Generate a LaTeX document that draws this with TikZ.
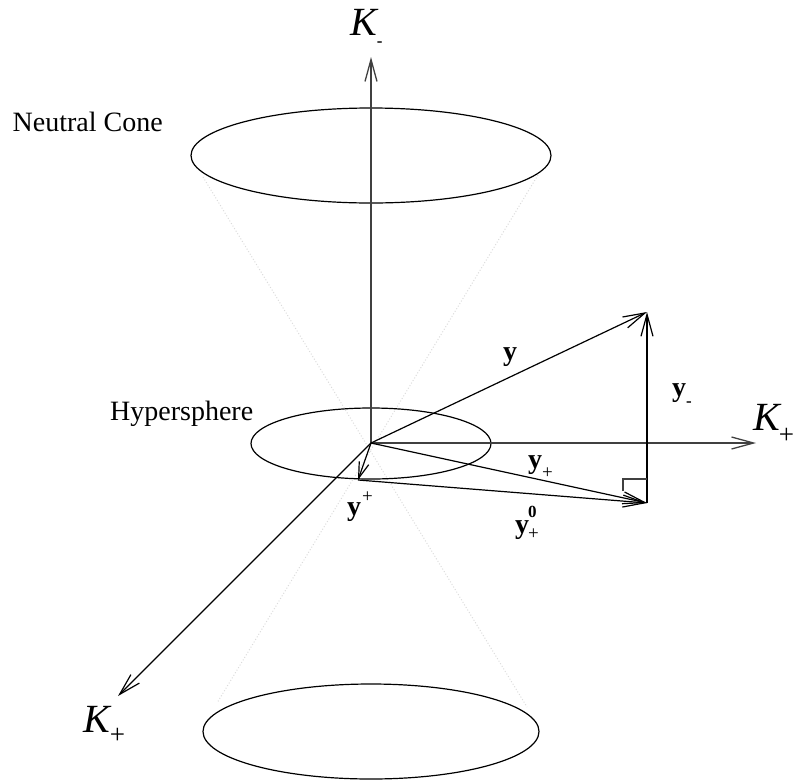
\documentclass[tikz,border=0pt]{standalone}
\usepackage{fontspec}
\setmainfont{Liberation Serif}
\usetikzlibrary{arrows.meta}
\newcommand{\smallsc}[1]{{\fontsize{19}{19}\selectfont\upshape\mdseries #1}}
\newcommand{\smallbf}[1]{{\fontsize{17}{17}\selectfont\upshape\bfseries #1}}
\newcommand{\ksub}[1]{{\fontsize{27}{27}\selectfont\upshape #1}}
\begin{document}
\begin{tikzpicture}[x=1pt,y=-1pt,
  axis/.style={draw=black!75, line width=1.3pt, -{Straight Barb[length=22pt,width=12pt]}},
  vec/.style={draw=black, line width=1.2pt, -{Straight Barb[length=22pt,width=12pt]}},
  shortvec/.style={draw=black, line width=1.2pt, -{Straight Barb[length=16pt,width=10pt]}},
  conedot/.style={draw=black!14, dotted, line width=1pt},
  ring/.style={draw=black, line width=1.2pt},
  rightmark/.style={draw=black!75, line width=1.2pt},
  lbl/.style={anchor=base west, inner sep=0pt, font=\fontsize{28}{30}\selectfont},
  klbl/.style={anchor=base west, inner sep=0pt, font=\fontsize{40}{40}\selectfont\itshape},
]
\useasboundingbox (0,0) rectangle (795,782);
% key points
\coordinate (O) at (371,443);
\coordinate (Ktop) at (371,57);
\coordinate (Kright) at (756,443);
\coordinate (Kdiag) at (118,696);
\coordinate (Y) at (647,312);
\coordinate (P) at (647,503);
\coordinate (Q) at (358,480);
\coordinate (c1a) at (203,177);
\coordinate (c1b) at (527,707);
\coordinate (c2a) at (538,175);
\coordinate (c2b) at (217,703);
\coordinate (r1) at (623,491);
\coordinate (r2) at (623,479);
\coordinate (r3) at (647,479);
% neutral cone (dotted)
\draw[conedot] (c1a) -- (c1b);
\draw[conedot] (c2a) -- (c2b);
% ellipses
\draw[ring] (371,155.5) ellipse [x radius=180, y radius=47.5];
\draw[ring] (371,443.5) ellipse [x radius=120, y radius=35.5];
\draw[ring] (371,731.5) ellipse [x radius=168, y radius=47.5];
% axes
\draw[axis] (O) -- (Ktop);
\draw[axis] (O) -- (Kright);
\draw[vec] (O) -- (Kdiag);
% vectors
\draw[vec] (O) -- (Y);
\draw[vec] (P) -- (Y);
\draw[vec] (O) -- (P);
\draw[shortvec] (O) -- (Q);
\draw[vec] (Q) -- (P);
% right-angle mark
\draw[rightmark] (r1) -- (r2) -- (r3);
% labels
\node[lbl] (neutral) at (12.5,131.5) {Neutral Cone};
\node[lbl] (hyper) at (110,420) {Hypersphere};
\node[klbl] (kminus) at (350,35) {K\raisebox{-11pt}{\smallbf{-}}};
\node[klbl] (kplusr) at (753,430) {K\kern-1pt\raisebox{-13pt}{\ksub{+}}};
\node[klbl] (kplusd) at (83,732) {K\raisebox{-11pt}{\ksub{+}}};
\node[lbl] (ylab) at (503,360) {\textbf{y}};
\node[lbl] (yminus) at (672,396) {\textbf{y}\raisebox{-10.5pt}{\smallbf{-}}};
\node[lbl] (yplus) at (528,468) {\textbf{y}\raisebox{-10.5pt}{\smallsc{+}}};
\node[lbl] (yup) at (347,515) {\textbf{y}\kern1pt\raisebox{12.5pt}{\smallsc{+}}};
\node[lbl] (yzero) at (515,533) {\textbf{y}\kern-1pt\rlap{\raisebox{16pt}{\smallbf{0}}}\raisebox{-6.5pt}{\smallsc{+}}};
\end{tikzpicture}
\end{document}
